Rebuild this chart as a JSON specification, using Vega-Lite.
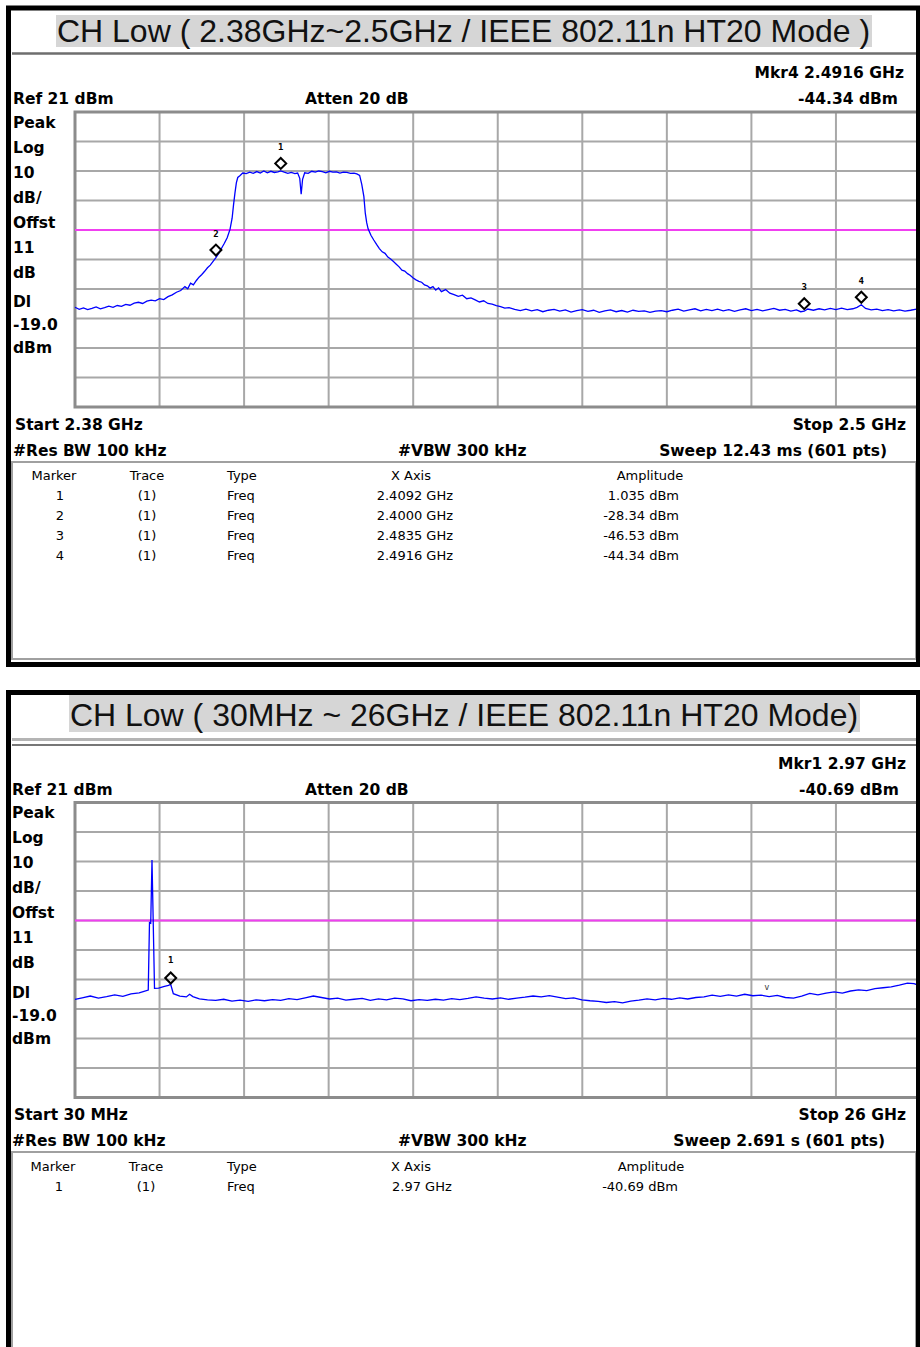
{
  "$schema": "https://vega.github.io/schema/vega-lite/v6.json",
  "width": 920,
  "height": 1347,
  "autosize": {"type": "none"},
  "padding": 0,
  "background": "white",
  "config": {
    "view": {"stroke": null},
    "axis": {"disable": true},
    "text": {"font": "DejaVu Sans", "color": "#000"}
  },
  "datasets": {
    "trace1": [
      {"f": 2.3800, "dbm": -45.2}, {"f": 2.3806, "dbm": -45.9}, {"f": 2.3812, "dbm": -45.4}, {"f": 2.3818, "dbm": -46.0},
      {"f": 2.3824, "dbm": -45.6}, {"f": 2.3830, "dbm": -45.1}, {"f": 2.3836, "dbm": -45.7}, {"f": 2.3842, "dbm": -45.3},
      {"f": 2.3848, "dbm": -44.8}, {"f": 2.3854, "dbm": -45.2}, {"f": 2.3860, "dbm": -44.6}, {"f": 2.3866, "dbm": -44.9},
      {"f": 2.3872, "dbm": -44.2}, {"f": 2.3878, "dbm": -44.5}, {"f": 2.3884, "dbm": -43.8}, {"f": 2.3890, "dbm": -43.5},
      {"f": 2.3896, "dbm": -43.9}, {"f": 2.3902, "dbm": -43.1}, {"f": 2.3908, "dbm": -42.8}, {"f": 2.3914, "dbm": -43.0},
      {"f": 2.3920, "dbm": -42.3}, {"f": 2.3926, "dbm": -42.6}, {"f": 2.3932, "dbm": -41.6}, {"f": 2.3938, "dbm": -41.0},
      {"f": 2.3944, "dbm": -40.1}, {"f": 2.3950, "dbm": -39.5}, {"f": 2.3956, "dbm": -38.2}, {"f": 2.3960, "dbm": -38.9},
      {"f": 2.3964, "dbm": -37.0}, {"f": 2.3968, "dbm": -37.6}, {"f": 2.3972, "dbm": -36.2}, {"f": 2.3976, "dbm": -35.0},
      {"f": 2.3980, "dbm": -34.1}, {"f": 2.3984, "dbm": -33.0}, {"f": 2.3988, "dbm": -31.8}, {"f": 2.3992, "dbm": -30.9},
      {"f": 2.3996, "dbm": -29.6}, {"f": 2.4000, "dbm": -28.34}, {"f": 2.4004, "dbm": -26.9}, {"f": 2.4008, "dbm": -25.2},
      {"f": 2.4012, "dbm": -23.5}, {"f": 2.4016, "dbm": -21.6}, {"f": 2.4020, "dbm": -18.8}, {"f": 2.4023, "dbm": -15.0},
      {"f": 2.4025, "dbm": -10.5}, {"f": 2.4027, "dbm": -6.5}, {"f": 2.4029, "dbm": -3.0}, {"f": 2.4031, "dbm": -1.2},
      {"f": 2.4034, "dbm": -0.6}, {"f": 2.4038, "dbm": 0.3}, {"f": 2.4043, "dbm": 0.1}, {"f": 2.4048, "dbm": 0.6},
      {"f": 2.4053, "dbm": 0.2}, {"f": 2.4058, "dbm": 0.8}, {"f": 2.4063, "dbm": 0.3}, {"f": 2.4068, "dbm": 1.0},
      {"f": 2.4073, "dbm": 0.4}, {"f": 2.4078, "dbm": 0.9}, {"f": 2.4083, "dbm": 0.5}, {"f": 2.4088, "dbm": 0.7},
      {"f": 2.4092, "dbm": 1.035}, {"f": 2.4097, "dbm": 0.6}, {"f": 2.4102, "dbm": 0.2}, {"f": 2.4107, "dbm": 0.5},
      {"f": 2.4112, "dbm": 0.1}, {"f": 2.4116, "dbm": 0.3}, {"f": 2.4119, "dbm": -1.5}, {"f": 2.4121, "dbm": -6.9},
      {"f": 2.4123, "dbm": -1.8}, {"f": 2.4126, "dbm": 0.4}, {"f": 2.4131, "dbm": 0.2}, {"f": 2.4136, "dbm": 0.9},
      {"f": 2.4141, "dbm": 0.6}, {"f": 2.4146, "dbm": 1.0}, {"f": 2.4151, "dbm": 0.8}, {"f": 2.4156, "dbm": 0.4},
      {"f": 2.4161, "dbm": 0.9}, {"f": 2.4166, "dbm": 0.6}, {"f": 2.4171, "dbm": 0.7}, {"f": 2.4176, "dbm": 0.3},
      {"f": 2.4181, "dbm": 0.6}, {"f": 2.4186, "dbm": 0.5}, {"f": 2.4191, "dbm": 0.2}, {"f": 2.4196, "dbm": 0.3},
      {"f": 2.4200, "dbm": 0.0}, {"f": 2.4204, "dbm": -0.5}, {"f": 2.4207, "dbm": -3.5}, {"f": 2.4210, "dbm": -7.7},
      {"f": 2.4212, "dbm": -13.3}, {"f": 2.4214, "dbm": -16.5}, {"f": 2.4216, "dbm": -18.6}, {"f": 2.4220, "dbm": -20.8},
      {"f": 2.4224, "dbm": -22.4}, {"f": 2.4228, "dbm": -23.9}, {"f": 2.4232, "dbm": -25.3}, {"f": 2.4236, "dbm": -26.4},
      {"f": 2.4240, "dbm": -26.9}, {"f": 2.4244, "dbm": -28.2}, {"f": 2.4248, "dbm": -28.8}, {"f": 2.4252, "dbm": -29.7},
      {"f": 2.4256, "dbm": -30.6}, {"f": 2.4260, "dbm": -31.5}, {"f": 2.4264, "dbm": -32.6}, {"f": 2.4268, "dbm": -32.9},
      {"f": 2.4272, "dbm": -33.8}, {"f": 2.4276, "dbm": -34.4}, {"f": 2.4280, "dbm": -35.3}, {"f": 2.4284, "dbm": -35.9},
      {"f": 2.4288, "dbm": -36.4}, {"f": 2.4292, "dbm": -36.7}, {"f": 2.4296, "dbm": -37.6}, {"f": 2.4300, "dbm": -37.9},
      {"f": 2.4304, "dbm": -38.7}, {"f": 2.4308, "dbm": -38.2}, {"f": 2.4312, "dbm": -39.4}, {"f": 2.4316, "dbm": -38.6},
      {"f": 2.4320, "dbm": -39.9}, {"f": 2.4326, "dbm": -39.2}, {"f": 2.4332, "dbm": -40.4}, {"f": 2.4338, "dbm": -40.9},
      {"f": 2.4344, "dbm": -41.5}, {"f": 2.4350, "dbm": -41.1}, {"f": 2.4356, "dbm": -42.3}, {"f": 2.4362, "dbm": -42.0},
      {"f": 2.4368, "dbm": -42.7}, {"f": 2.4374, "dbm": -43.4}, {"f": 2.4380, "dbm": -43.0}, {"f": 2.4386, "dbm": -43.9},
      {"f": 2.4392, "dbm": -44.1}, {"f": 2.4398, "dbm": -44.6}, {"f": 2.4404, "dbm": -45.0}, {"f": 2.4410, "dbm": -45.5},
      {"f": 2.4416, "dbm": -45.3}, {"f": 2.4424, "dbm": -45.9}, {"f": 2.4432, "dbm": -46.3}, {"f": 2.4440, "dbm": -45.8},
      {"f": 2.4448, "dbm": -46.4}, {"f": 2.4456, "dbm": -46.0}, {"f": 2.4464, "dbm": -46.7}, {"f": 2.4472, "dbm": -46.2},
      {"f": 2.4480, "dbm": -45.9}, {"f": 2.4488, "dbm": -46.5}, {"f": 2.4496, "dbm": -46.1}, {"f": 2.4504, "dbm": -46.8},
      {"f": 2.4512, "dbm": -46.3}, {"f": 2.4520, "dbm": -46.0}, {"f": 2.4528, "dbm": -46.6}, {"f": 2.4536, "dbm": -46.2},
      {"f": 2.4544, "dbm": -46.9}, {"f": 2.4552, "dbm": -46.4}, {"f": 2.4560, "dbm": -46.1}, {"f": 2.4568, "dbm": -46.7},
      {"f": 2.4576, "dbm": -46.3}, {"f": 2.4584, "dbm": -46.8}, {"f": 2.4592, "dbm": -46.2}, {"f": 2.4600, "dbm": -46.6},
      {"f": 2.4608, "dbm": -46.4}, {"f": 2.4616, "dbm": -46.9}, {"f": 2.4624, "dbm": -46.5}, {"f": 2.4632, "dbm": -46.3},
      {"f": 2.4640, "dbm": -46.7}, {"f": 2.4648, "dbm": -46.2}, {"f": 2.4656, "dbm": -45.8}, {"f": 2.4664, "dbm": -46.5},
      {"f": 2.4672, "dbm": -46.1}, {"f": 2.4680, "dbm": -45.7}, {"f": 2.4688, "dbm": -46.4}, {"f": 2.4696, "dbm": -45.9},
      {"f": 2.4704, "dbm": -46.3}, {"f": 2.4712, "dbm": -45.8}, {"f": 2.4720, "dbm": -46.4}, {"f": 2.4728, "dbm": -46.0},
      {"f": 2.4736, "dbm": -46.6}, {"f": 2.4744, "dbm": -46.1}, {"f": 2.4752, "dbm": -45.7}, {"f": 2.4760, "dbm": -46.3},
      {"f": 2.4768, "dbm": -45.9}, {"f": 2.4776, "dbm": -46.4}, {"f": 2.4784, "dbm": -46.0}, {"f": 2.4792, "dbm": -45.6},
      {"f": 2.4800, "dbm": -46.2}, {"f": 2.4808, "dbm": -45.9}, {"f": 2.4816, "dbm": -46.5}, {"f": 2.4824, "dbm": -46.1},
      {"f": 2.4830, "dbm": -46.7}, {"f": 2.4835, "dbm": -46.53}, {"f": 2.4840, "dbm": -45.8}, {"f": 2.4848, "dbm": -46.2},
      {"f": 2.4856, "dbm": -45.7}, {"f": 2.4864, "dbm": -46.1}, {"f": 2.4872, "dbm": -45.6}, {"f": 2.4880, "dbm": -46.0},
      {"f": 2.4888, "dbm": -45.5}, {"f": 2.4896, "dbm": -46.0}, {"f": 2.4904, "dbm": -45.7}, {"f": 2.4910, "dbm": -45.2},
      {"f": 2.4916, "dbm": -44.34}, {"f": 2.4922, "dbm": -45.6}, {"f": 2.4930, "dbm": -46.1}, {"f": 2.4938, "dbm": -45.8},
      {"f": 2.4946, "dbm": -46.3}, {"f": 2.4954, "dbm": -46.0}, {"f": 2.4962, "dbm": -46.4}, {"f": 2.4970, "dbm": -46.1},
      {"f": 2.4978, "dbm": -46.5}, {"f": 2.4986, "dbm": -46.2}, {"f": 2.4994, "dbm": -45.8}, {"f": 2.5000, "dbm": -46.3}
    ],
    "trace2": [
      {"f": 0.03, "dbm": -45.7}, {"f": 0.25, "dbm": -45.2}, {"f": 0.50, "dbm": -44.6}, {"f": 0.75, "dbm": -45.3},
      {"f": 1.00, "dbm": -44.8}, {"f": 1.25, "dbm": -44.2}, {"f": 1.50, "dbm": -44.7}, {"f": 1.75, "dbm": -43.9},
      {"f": 2.00, "dbm": -43.5}, {"f": 2.15, "dbm": -43.0}, {"f": 2.28, "dbm": -42.6}, {"f": 2.318, "dbm": -19.7},
      {"f": 2.356, "dbm": -19.9}, {"f": 2.395, "dbm": 1.5}, {"f": 2.433, "dbm": -19.8}, {"f": 2.472, "dbm": -42.0},
      {"f": 2.60, "dbm": -41.9}, {"f": 2.75, "dbm": -41.4}, {"f": 2.90, "dbm": -41.0}, {"f": 2.97, "dbm": -40.69},
      {"f": 3.05, "dbm": -43.8}, {"f": 3.25, "dbm": -44.6}, {"f": 3.45, "dbm": -44.9}, {"f": 3.55, "dbm": -44.0},
      {"f": 3.65, "dbm": -44.8}, {"f": 3.85, "dbm": -45.6}, {"f": 4.10, "dbm": -45.9}, {"f": 4.35, "dbm": -46.1},
      {"f": 4.60, "dbm": -45.7}, {"f": 4.85, "dbm": -46.3}, {"f": 5.10, "dbm": -46.0}, {"f": 5.35, "dbm": -46.4},
      {"f": 5.60, "dbm": -45.9}, {"f": 5.85, "dbm": -46.2}, {"f": 6.10, "dbm": -45.8}, {"f": 6.35, "dbm": -46.1},
      {"f": 6.60, "dbm": -45.5}, {"f": 6.85, "dbm": -45.8}, {"f": 7.10, "dbm": -45.2}, {"f": 7.35, "dbm": -44.6},
      {"f": 7.60, "dbm": -45.1}, {"f": 7.85, "dbm": -45.6}, {"f": 8.10, "dbm": -45.3}, {"f": 8.35, "dbm": -46.0},
      {"f": 8.60, "dbm": -45.7}, {"f": 8.85, "dbm": -45.4}, {"f": 9.10, "dbm": -46.1}, {"f": 9.35, "dbm": -45.6},
      {"f": 9.60, "dbm": -45.9}, {"f": 9.85, "dbm": -45.3}, {"f": 10.10, "dbm": -45.6}, {"f": 10.35, "dbm": -46.2},
      {"f": 10.60, "dbm": -45.8}, {"f": 10.85, "dbm": -46.1}, {"f": 11.10, "dbm": -45.7}, {"f": 11.35, "dbm": -46.0},
      {"f": 11.60, "dbm": -45.5}, {"f": 11.85, "dbm": -45.8}, {"f": 12.10, "dbm": -45.4}, {"f": 12.35, "dbm": -44.9},
      {"f": 12.60, "dbm": -45.3}, {"f": 12.85, "dbm": -45.6}, {"f": 13.10, "dbm": -45.2}, {"f": 13.35, "dbm": -45.7},
      {"f": 13.60, "dbm": -45.3}, {"f": 13.85, "dbm": -45.0}, {"f": 14.10, "dbm": -44.6}, {"f": 14.35, "dbm": -44.9},
      {"f": 14.60, "dbm": -44.5}, {"f": 14.85, "dbm": -45.0}, {"f": 15.10, "dbm": -45.5}, {"f": 15.35, "dbm": -45.2},
      {"f": 15.60, "dbm": -45.9}, {"f": 15.85, "dbm": -46.2}, {"f": 16.10, "dbm": -46.4}, {"f": 16.35, "dbm": -46.8},
      {"f": 16.60, "dbm": -46.5}, {"f": 16.85, "dbm": -46.9}, {"f": 17.10, "dbm": -46.3}, {"f": 17.35, "dbm": -46.0},
      {"f": 17.60, "dbm": -45.6}, {"f": 17.85, "dbm": -45.9}, {"f": 18.10, "dbm": -45.4}, {"f": 18.35, "dbm": -45.7},
      {"f": 18.60, "dbm": -45.2}, {"f": 18.85, "dbm": -45.6}, {"f": 19.10, "dbm": -45.1}, {"f": 19.35, "dbm": -44.9},
      {"f": 19.60, "dbm": -44.3}, {"f": 19.85, "dbm": -44.7}, {"f": 20.10, "dbm": -44.2}, {"f": 20.35, "dbm": -44.6},
      {"f": 20.60, "dbm": -44.0}, {"f": 20.85, "dbm": -44.5}, {"f": 21.10, "dbm": -44.3}, {"f": 21.35, "dbm": -44.8},
      {"f": 21.60, "dbm": -44.4}, {"f": 21.85, "dbm": -45.1}, {"f": 22.10, "dbm": -45.3}, {"f": 22.35, "dbm": -44.6},
      {"f": 22.60, "dbm": -43.7}, {"f": 22.85, "dbm": -44.2}, {"f": 23.10, "dbm": -43.6}, {"f": 23.35, "dbm": -43.2},
      {"f": 23.60, "dbm": -43.6}, {"f": 23.85, "dbm": -42.9}, {"f": 24.10, "dbm": -42.5}, {"f": 24.35, "dbm": -42.8},
      {"f": 24.60, "dbm": -42.1}, {"f": 24.85, "dbm": -41.8}, {"f": 25.10, "dbm": -41.5}, {"f": 25.35, "dbm": -40.9},
      {"f": 25.60, "dbm": -40.2}, {"f": 25.80, "dbm": -40.4}, {"f": 26.00, "dbm": -41.2}
    ],
    "markers1": [
      {"marker": 1, "trace": "(1)", "type": "Freq", "f": 2.4092, "dbm": 1.035, "xaxis": "2.4092 GHz", "amplitude": "1.035 dBm"},
      {"marker": 2, "trace": "(1)", "type": "Freq", "f": 2.4000, "dbm": -28.34, "xaxis": "2.4000 GHz", "amplitude": "-28.34 dBm"},
      {"marker": 3, "trace": "(1)", "type": "Freq", "f": 2.4835, "dbm": -46.53, "xaxis": "2.4835 GHz", "amplitude": "-46.53 dBm"},
      {"marker": 4, "trace": "(1)", "type": "Freq", "f": 2.4916, "dbm": -44.34, "xaxis": "2.4916 GHz", "amplitude": "-44.34 dBm"}
    ],
    "markers2": [
      {"marker": 1, "trace": "(1)", "type": "Freq", "f": 2.97, "dbm": -40.69, "xaxis": "2.97 GHz", "amplitude": "-40.69 dBm"}
    ],
    "gridF1": [{"f": 2.38}, {"f": 2.392}, {"f": 2.404}, {"f": 2.416}, {"f": 2.428}, {"f": 2.44}, {"f": 2.452}, {"f": 2.464}, {"f": 2.476}, {"f": 2.488}, {"f": 2.5}],
    "gridF2": [{"f": 0.03}, {"f": 2.627}, {"f": 5.224}, {"f": 7.821}, {"f": 10.418}, {"f": 13.015}, {"f": 15.612}, {"f": 18.209}, {"f": 20.806}, {"f": 23.403}, {"f": 26.0}],
    "gridDb": [{"dbm": 21}, {"dbm": 11}, {"dbm": 1}, {"dbm": -9}, {"dbm": -19}, {"dbm": -29}, {"dbm": -39}, {"dbm": -49}, {"dbm": -59}, {"dbm": -69}, {"dbm": -79}],
    "one": [{}]
  },
  "resolve": {"scale": {"x": "independent", "y": "independent"}},
  "layer": [
    {
      "layer": [
        {
          "data": {"name": "one"},
          "layer": [
            {"mark": {"type": "rect", "fill": "#d6d6d6", "xOffset": -19, "x2Offset": 797, "yOffset": -97, "y2Offset": -65},
             "encoding": {"x": {"datum": 2.38, "type": "quantitative", "scale": {"domain": [2.38, 2.5], "range": [75, 920.5], "zero": false, "nice": false}}, "x2": {"datum": 2.38},
                          "y": {"datum": 21, "type": "quantitative", "scale": {"domain": [-79, 21], "range": [407, 112], "zero": false, "nice": false}}, "y2": {"datum": 21}}},
            {"mark": {"type": "rect", "fillOpacity": 0, "stroke": "#a0a0a0", "strokeWidth": 2, "xOffset": -63, "x2Offset": -4.5, "yOffset": 55, "y2Offset": 252},
             "encoding": {"x": {"datum": 2.38, "type": "quantitative", "scale": {"domain": [2.38, 2.5], "range": [75, 920.5], "zero": false, "nice": false}}, "x2": {"datum": 2.5},
                          "y": {"datum": -79, "type": "quantitative", "scale": {"domain": [-79, 21], "range": [407, 112], "zero": false, "nice": false}}, "y2": {"datum": -79}}}
          ]
        },
        {
          "data": {"name": "gridF1"},
          "mark": {"type": "rule", "color": "#a8a8a8", "strokeWidth": 2},
          "encoding": {"x": {"field": "f", "type": "quantitative", "scale": {"domain": [2.38, 2.5], "range": [75, 920.5], "zero": false, "nice": false}},
                       "y": {"datum": -79, "type": "quantitative", "scale": {"domain": [-79, 21], "range": [407, 112], "zero": false, "nice": false}}, "y2": {"datum": 21}}
        },
        {
          "data": {"name": "gridDb"},
          "mark": {"type": "rule", "color": "#a8a8a8", "strokeWidth": 2},
          "encoding": {"y": {"field": "dbm", "type": "quantitative", "scale": {"domain": [-79, 21], "range": [407, 112], "zero": false, "nice": false}},
                       "x": {"datum": 2.38, "type": "quantitative", "scale": {"domain": [2.38, 2.5], "range": [75, 920.5], "zero": false, "nice": false}}, "x2": {"datum": 2.5}}
        },
        {
          "data": {"name": "one"},
          "layer": [
            {"mark": {"type": "rect", "fillOpacity": 0, "stroke": "#8c8c8c", "strokeWidth": 3},
             "encoding": {"x": {"datum": 2.38, "type": "quantitative", "scale": {"domain": [2.38, 2.5], "range": [75, 920.5], "zero": false, "nice": false}}, "x2": {"datum": 2.5},
                          "y": {"datum": -79, "type": "quantitative", "scale": {"domain": [-79, 21], "range": [407, 112], "zero": false, "nice": false}}, "y2": {"datum": 21}}},
            {"mark": {"type": "rule", "color": "#f040f0", "strokeWidth": 2},
             "encoding": {"y": {"datum": -19, "type": "quantitative", "scale": {"domain": [-79, 21], "range": [407, 112], "zero": false, "nice": false}},
                          "x": {"datum": 2.38, "type": "quantitative", "scale": {"domain": [2.38, 2.5], "range": [75, 920.5], "zero": false, "nice": false}}, "x2": {"datum": 2.5}}}
          ]
        },
        {
          "data": {"name": "trace1"},
          "mark": {"type": "line", "color": "#0000ff", "strokeWidth": 1.3, "interpolate": "linear"},
          "encoding": {"x": {"field": "f", "type": "quantitative", "scale": {"domain": [2.38, 2.5], "range": [75, 920.5], "zero": false, "nice": false}},
                       "y": {"field": "dbm", "type": "quantitative", "scale": {"domain": [-79, 21], "range": [407, 112], "zero": false, "nice": false}}}
        },
        {
          "data": {"name": "markers1"},
          "encoding": {"x": {"field": "f", "type": "quantitative", "scale": {"domain": [2.38, 2.5], "range": [75, 920.5], "zero": false, "nice": false}},
                       "y": {"field": "dbm", "type": "quantitative", "scale": {"domain": [-79, 21], "range": [407, 112], "zero": false, "nice": false}}},
          "layer": [
            {"mark": {"type": "point", "shape": "diamond", "size": 120, "filled": false, "stroke": "#000", "strokeWidth": 2, "opacity": 1, "yOffset": -7.5}},
            {"mark": {"type": "text", "font": "DejaVu Sans Mono", "fontWeight": "bold", "fontSize": 9, "baseline": "middle", "dy": -24},
             "encoding": {"text": {"field": "marker", "type": "nominal"}}}
          ]
        },
        {
          "data": {"name": "one"},
          "encoding": {"x": {"datum": 2.38, "type": "quantitative", "scale": {"domain": [2.38, 2.5], "range": [75, 920.5], "zero": false, "nice": false}},
                       "y": {"datum": 21, "type": "quantitative", "scale": {"domain": [-79, 21], "range": [407, 112], "zero": false, "nice": false}}},
          "layer": [
            {"mark": {"type": "text", "text": "CH Low ( 2.38GHz~2.5GHz / IEEE 802.11n HT20 Mode )", "font": "Liberation Sans", "fontSize": 32, "align": "center", "baseline": "alphabetic", "dx": 388.5, "dy": -70, "color": "#111"}},
            {"mark": {"type": "rule", "color": "#6e6e6e", "strokeWidth": 2.5, "xOffset": -63, "x2Offset": -4.5, "yOffset": -58.5},
             "encoding": {"x2": {"datum": 2.5}}},
            {"mark": {"type": "text", "text": "Mkr4  2.4916 GHz", "fontWeight": "bold", "fontSize": 15.5, "align": "right", "baseline": "alphabetic", "dx": 829, "dy": -34}},
            {"mark": {"type": "text", "text": "-44.34 dBm", "fontWeight": "bold", "fontSize": 15.5, "align": "right", "baseline": "alphabetic", "dx": 823, "dy": -8}},
            {"mark": {"type": "text", "text": "Ref 21 dBm", "fontWeight": "bold", "fontSize": 15.5, "align": "left", "baseline": "alphabetic", "dx": -62, "dy": -8}},
            {"mark": {"type": "text", "text": "Atten 20 dB", "fontWeight": "bold", "fontSize": 15.5, "align": "left", "baseline": "alphabetic", "dx": 230, "dy": -8}},
            {"mark": {"type": "text", "text": ["Peak", "Log", "10", "dB/", "Offst", "11", "dB"], "lineHeight": 25, "fontWeight": "bold", "fontSize": 15.5, "align": "left", "baseline": "alphabetic", "dx": -62, "dy": 16}},
            {"mark": {"type": "text", "text": ["Dl", "-19.0", "dBm"], "lineHeight": 23, "fontWeight": "bold", "fontSize": 15.5, "align": "left", "baseline": "alphabetic", "dx": -62, "dy": 195}},
            {"mark": {"type": "text", "text": "Start 2.38 GHz", "fontWeight": "bold", "fontSize": 15.5, "align": "left", "baseline": "alphabetic", "dx": -60, "dy": 23},
             "encoding": {"y": {"datum": -79, "type": "quantitative"}}},
            {"mark": {"type": "text", "text": "#Res BW 100 kHz", "fontWeight": "bold", "fontSize": 15.5, "align": "left", "baseline": "alphabetic", "dx": -62, "dy": 49},
             "encoding": {"y": {"datum": -79, "type": "quantitative"}}},
            {"mark": {"type": "text", "text": "#VBW 300 kHz", "fontWeight": "bold", "fontSize": 15.5, "align": "left", "baseline": "alphabetic", "dx": 323, "dy": 49},
             "encoding": {"y": {"datum": -79, "type": "quantitative"}}},
            {"mark": {"type": "text", "text": "Stop 2.5 GHz", "fontWeight": "bold", "fontSize": 15.5, "align": "right", "baseline": "alphabetic", "dx": -14.5, "dy": 23},
             "encoding": {"x": {"datum": 2.5, "type": "quantitative"}, "y": {"datum": -79, "type": "quantitative"}}},
            {"mark": {"type": "text", "text": "Sweep 12.43 ms (601 pts)", "fontWeight": "bold", "fontSize": 15.5, "align": "right", "baseline": "alphabetic", "dx": -33.5, "dy": 49},
             "encoding": {"x": {"datum": 2.5, "type": "quantitative"}, "y": {"datum": -79, "type": "quantitative"}}},
            {"mark": {"type": "rect", "fillOpacity": 0, "stroke": "#000", "strokeWidth": 5, "xOffset": -66.5, "x2Offset": -2, "yOffset": -104, "y2Offset": 257.5},
             "encoding": {"x2": {"datum": 2.5}, "y2": {"datum": -79}}}
          ]
        }
      ]
    },
    {
      "encoding": {"x": {"datum": 2.38, "type": "quantitative", "scale": {"domain": [2.38, 2.5], "range": [75, 920.5], "zero": false, "nice": false}}},
      "layer": [
        {
          "data": {"name": "markers1"},
          "encoding": {"y": {"field": "marker", "type": "quantitative", "scale": {"domain": [1, 4], "range": [500, 560], "zero": false, "nice": false}}},
          "layer": [
            {"mark": {"type": "text", "fontSize": 13, "align": "center", "baseline": "alphabetic", "dx": -15}, "encoding": {"text": {"field": "marker", "type": "nominal"}}},
            {"mark": {"type": "text", "fontSize": 13, "align": "center", "baseline": "alphabetic", "dx": 72}, "encoding": {"text": {"field": "trace", "type": "nominal"}}},
            {"mark": {"type": "text", "fontSize": 13, "align": "left", "baseline": "alphabetic", "dx": 152}, "encoding": {"text": {"field": "type", "type": "nominal"}}},
            {"mark": {"type": "text", "fontSize": 13, "align": "right", "baseline": "alphabetic", "dx": 378}, "encoding": {"text": {"field": "xaxis", "type": "nominal"}}},
            {"mark": {"type": "text", "fontSize": 13, "align": "right", "baseline": "alphabetic", "dx": 604}, "encoding": {"text": {"field": "amplitude", "type": "nominal"}}}
          ]
        },
        {
          "data": {"name": "one"},
          "encoding": {"y": {"datum": 1, "type": "quantitative", "scale": {"domain": [1, 4], "range": [500, 560], "zero": false, "nice": false}}},
          "layer": [
            {"mark": {"type": "text", "text": "Marker", "fontSize": 13, "align": "center", "baseline": "alphabetic", "dx": -21, "dy": -20}},
            {"mark": {"type": "text", "text": "Trace", "fontSize": 13, "align": "center", "baseline": "alphabetic", "dx": 72, "dy": -20}},
            {"mark": {"type": "text", "text": "Type", "fontSize": 13, "align": "left", "baseline": "alphabetic", "dx": 152, "dy": -20}},
            {"mark": {"type": "text", "text": "X Axis", "fontSize": 13, "align": "left", "baseline": "alphabetic", "dx": 316, "dy": -20}},
            {"mark": {"type": "text", "text": "Amplitude", "fontSize": 13, "align": "center", "baseline": "alphabetic", "dx": 575, "dy": -20}}
          ]
        }
      ]
    },
    {
      "layer": [
        {
          "data": {"name": "one"},
          "layer": [
            {"mark": {"type": "rect", "fill": "#d6d6d6", "xOffset": -6, "x2Offset": 785, "yOffset": -107.5, "y2Offset": -70.5},
             "encoding": {"x": {"datum": 0.03, "type": "quantitative", "scale": {"domain": [0.03, 26], "range": [75, 920.5], "zero": false, "nice": false}}, "x2": {"datum": 0.03},
                          "y": {"datum": 21, "type": "quantitative", "scale": {"domain": [-79, 21], "range": [1097.5, 802.5], "zero": false, "nice": false}}, "y2": {"datum": 21}}},
            {"mark": {"type": "rect", "fillOpacity": 0, "stroke": "#a0a0a0", "strokeWidth": 2, "xOffset": -63, "x2Offset": -4.5, "yOffset": 54.5, "y2Offset": 300},
             "encoding": {"x": {"datum": 0.03, "type": "quantitative", "scale": {"domain": [0.03, 26], "range": [75, 920.5], "zero": false, "nice": false}}, "x2": {"datum": 26},
                          "y": {"datum": -79, "type": "quantitative", "scale": {"domain": [-79, 21], "range": [1097.5, 802.5], "zero": false, "nice": false}}, "y2": {"datum": -79}}}
          ]
        },
        {
          "data": {"name": "gridF2"},
          "mark": {"type": "rule", "color": "#a8a8a8", "strokeWidth": 2},
          "encoding": {"x": {"field": "f", "type": "quantitative", "scale": {"domain": [0.03, 26], "range": [75, 920.5], "zero": false, "nice": false}},
                       "y": {"datum": -79, "type": "quantitative", "scale": {"domain": [-79, 21], "range": [1097.5, 802.5], "zero": false, "nice": false}}, "y2": {"datum": 21}}
        },
        {
          "data": {"name": "gridDb"},
          "mark": {"type": "rule", "color": "#a8a8a8", "strokeWidth": 2},
          "encoding": {"y": {"field": "dbm", "type": "quantitative", "scale": {"domain": [-79, 21], "range": [1097.5, 802.5], "zero": false, "nice": false}},
                       "x": {"datum": 0.03, "type": "quantitative", "scale": {"domain": [0.03, 26], "range": [75, 920.5], "zero": false, "nice": false}}, "x2": {"datum": 26}}
        },
        {
          "data": {"name": "one"},
          "layer": [
            {"mark": {"type": "rect", "fillOpacity": 0, "stroke": "#8c8c8c", "strokeWidth": 3},
             "encoding": {"x": {"datum": 0.03, "type": "quantitative", "scale": {"domain": [0.03, 26], "range": [75, 920.5], "zero": false, "nice": false}}, "x2": {"datum": 26},
                          "y": {"datum": -79, "type": "quantitative", "scale": {"domain": [-79, 21], "range": [1097.5, 802.5], "zero": false, "nice": false}}, "y2": {"datum": 21}}},
            {"mark": {"type": "rule", "color": "#f040f0", "strokeWidth": 2},
             "encoding": {"y": {"datum": -19, "type": "quantitative", "scale": {"domain": [-79, 21], "range": [1097.5, 802.5], "zero": false, "nice": false}},
                          "x": {"datum": 0.03, "type": "quantitative", "scale": {"domain": [0.03, 26], "range": [75, 920.5], "zero": false, "nice": false}}, "x2": {"datum": 26}}}
          ]
        },
        {
          "data": {"name": "trace2"},
          "mark": {"type": "line", "color": "#0000ff", "strokeWidth": 1.3, "interpolate": "linear"},
          "encoding": {"x": {"field": "f", "type": "quantitative", "scale": {"domain": [0.03, 26], "range": [75, 920.5], "zero": false, "nice": false}},
                       "y": {"field": "dbm", "type": "quantitative", "scale": {"domain": [-79, 21], "range": [1097.5, 802.5], "zero": false, "nice": false}}}
        },
        {
          "data": {"name": "markers2"},
          "encoding": {"x": {"field": "f", "type": "quantitative", "scale": {"domain": [0.03, 26], "range": [75, 920.5], "zero": false, "nice": false}},
                       "y": {"field": "dbm", "type": "quantitative", "scale": {"domain": [-79, 21], "range": [1097.5, 802.5], "zero": false, "nice": false}}},
          "layer": [
            {"mark": {"type": "point", "shape": "diamond", "size": 120, "filled": false, "stroke": "#000", "strokeWidth": 2, "opacity": 1, "yOffset": -6.5}},
            {"mark": {"type": "text", "font": "DejaVu Sans Mono", "fontWeight": "bold", "fontSize": 9, "baseline": "middle", "dy": -24},
             "encoding": {"text": {"field": "marker", "type": "nominal"}}}
          ]
        },
        {
          "data": {"name": "one"},
          "encoding": {"x": {"datum": 0.03, "type": "quantitative", "scale": {"domain": [0.03, 26], "range": [75, 920.5], "zero": false, "nice": false}},
                       "y": {"datum": 21, "type": "quantitative", "scale": {"domain": [-79, 21], "range": [1097.5, 802.5], "zero": false, "nice": false}}},
          "layer": [
            {"mark": {"type": "text", "text": "CH Low ( 30MHz ~ 26GHz / IEEE 802.11n HT20 Mode)", "font": "Liberation Sans", "fontSize": 32, "align": "center", "baseline": "alphabetic", "dx": 389, "dy": -76.5, "color": "#111"}},
            {"mark": {"type": "rule", "color": "#b4b4b4", "strokeWidth": 3, "xOffset": -63, "x2Offset": -4.5, "yOffset": -63},
             "encoding": {"x2": {"datum": 26}}},
            {"mark": {"type": "rule", "color": "#4a4a4a", "strokeWidth": 1.5, "xOffset": -63, "x2Offset": -4.5, "yOffset": -57.5},
             "encoding": {"x2": {"datum": 26}}},
            {"mark": {"type": "text", "text": "v", "fontSize": 8, "align": "center", "baseline": "middle", "color": "#333"},
             "encoding": {"x": {"datum": 21.28, "type": "quantitative"}, "y": {"datum": -41.9, "type": "quantitative"}}},
            {"mark": {"type": "text", "text": "Mkr1  2.97 GHz", "fontWeight": "bold", "fontSize": 15.5, "align": "right", "baseline": "alphabetic", "dx": 831, "dy": -33.5}},
            {"mark": {"type": "text", "text": "-40.69 dBm", "fontWeight": "bold", "fontSize": 15.5, "align": "right", "baseline": "alphabetic", "dx": 824, "dy": -7.5}},
            {"mark": {"type": "text", "text": "Ref 21 dBm", "fontWeight": "bold", "fontSize": 15.5, "align": "left", "baseline": "alphabetic", "dx": -63, "dy": -7.5}},
            {"mark": {"type": "text", "text": "Atten 20 dB", "fontWeight": "bold", "fontSize": 15.5, "align": "left", "baseline": "alphabetic", "dx": 230, "dy": -7.5}},
            {"mark": {"type": "text", "text": ["Peak", "Log", "10", "dB/", "Offst", "11", "dB"], "lineHeight": 25, "fontWeight": "bold", "fontSize": 15.5, "align": "left", "baseline": "alphabetic", "dx": -63, "dy": 15.5}},
            {"mark": {"type": "text", "text": ["Dl", "-19.0", "dBm"], "lineHeight": 23, "fontWeight": "bold", "fontSize": 15.5, "align": "left", "baseline": "alphabetic", "dx": -63, "dy": 195.5}},
            {"mark": {"type": "text", "text": "Start 30 MHz", "fontWeight": "bold", "fontSize": 15.5, "align": "left", "baseline": "alphabetic", "dx": -61, "dy": 22.5},
             "encoding": {"y": {"datum": -79, "type": "quantitative"}}},
            {"mark": {"type": "text", "text": "#Res BW 100 kHz", "fontWeight": "bold", "fontSize": 15.5, "align": "left", "baseline": "alphabetic", "dx": -63, "dy": 48.5},
             "encoding": {"y": {"datum": -79, "type": "quantitative"}}},
            {"mark": {"type": "text", "text": "#VBW 300 kHz", "fontWeight": "bold", "fontSize": 15.5, "align": "left", "baseline": "alphabetic", "dx": 323, "dy": 48.5},
             "encoding": {"y": {"datum": -79, "type": "quantitative"}}},
            {"mark": {"type": "text", "text": "Stop 26 GHz", "fontWeight": "bold", "fontSize": 15.5, "align": "right", "baseline": "alphabetic", "dx": -14.5, "dy": 22.5},
             "encoding": {"x": {"datum": 26, "type": "quantitative"}, "y": {"datum": -79, "type": "quantitative"}}},
            {"mark": {"type": "text", "text": "Sweep 2.691 s (601 pts)", "fontWeight": "bold", "fontSize": 15.5, "align": "right", "baseline": "alphabetic", "dx": -35.5, "dy": 48.5},
             "encoding": {"x": {"datum": 26, "type": "quantitative"}, "y": {"datum": -79, "type": "quantitative"}}},
            {"mark": {"type": "rect", "fillOpacity": 0, "stroke": "#000", "strokeWidth": 5, "xOffset": -66.5, "x2Offset": -2, "yOffset": -110, "y2Offset": 300},
             "encoding": {"x2": {"datum": 26}, "y2": {"datum": -79}}}
          ]
        }
      ]
    },
    {
      "encoding": {"x": {"datum": 0.03, "type": "quantitative", "scale": {"domain": [0.03, 26], "range": [75, 920.5], "zero": false, "nice": false}}},
      "layer": [
        {
          "data": {"name": "markers2"},
          "encoding": {"y": {"field": "marker", "type": "quantitative", "scale": {"domain": [1, 2], "range": [1191, 1211], "zero": false, "nice": false}}},
          "layer": [
            {"mark": {"type": "text", "fontSize": 13, "align": "center", "baseline": "alphabetic", "dx": -16}, "encoding": {"text": {"field": "marker", "type": "nominal"}}},
            {"mark": {"type": "text", "fontSize": 13, "align": "center", "baseline": "alphabetic", "dx": 71}, "encoding": {"text": {"field": "trace", "type": "nominal"}}},
            {"mark": {"type": "text", "fontSize": 13, "align": "left", "baseline": "alphabetic", "dx": 152}, "encoding": {"text": {"field": "type", "type": "nominal"}}},
            {"mark": {"type": "text", "fontSize": 13, "align": "left", "baseline": "alphabetic", "dx": 317}, "encoding": {"text": {"field": "xaxis", "type": "nominal"}}},
            {"mark": {"type": "text", "fontSize": 13, "align": "right", "baseline": "alphabetic", "dx": 603}, "encoding": {"text": {"field": "amplitude", "type": "nominal"}}}
          ]
        },
        {
          "data": {"name": "one"},
          "encoding": {"y": {"datum": 1, "type": "quantitative", "scale": {"domain": [1, 2], "range": [1191, 1211], "zero": false, "nice": false}}},
          "layer": [
            {"mark": {"type": "text", "text": "Marker", "fontSize": 13, "align": "center", "baseline": "alphabetic", "dx": -22, "dy": -20}},
            {"mark": {"type": "text", "text": "Trace", "fontSize": 13, "align": "center", "baseline": "alphabetic", "dx": 71, "dy": -20}},
            {"mark": {"type": "text", "text": "Type", "fontSize": 13, "align": "left", "baseline": "alphabetic", "dx": 152, "dy": -20}},
            {"mark": {"type": "text", "text": "X Axis", "fontSize": 13, "align": "left", "baseline": "alphabetic", "dx": 316, "dy": -20}},
            {"mark": {"type": "text", "text": "Amplitude", "fontSize": 13, "align": "center", "baseline": "alphabetic", "dx": 576, "dy": -20}}
          ]
        }
      ]
    }
  ]
}
